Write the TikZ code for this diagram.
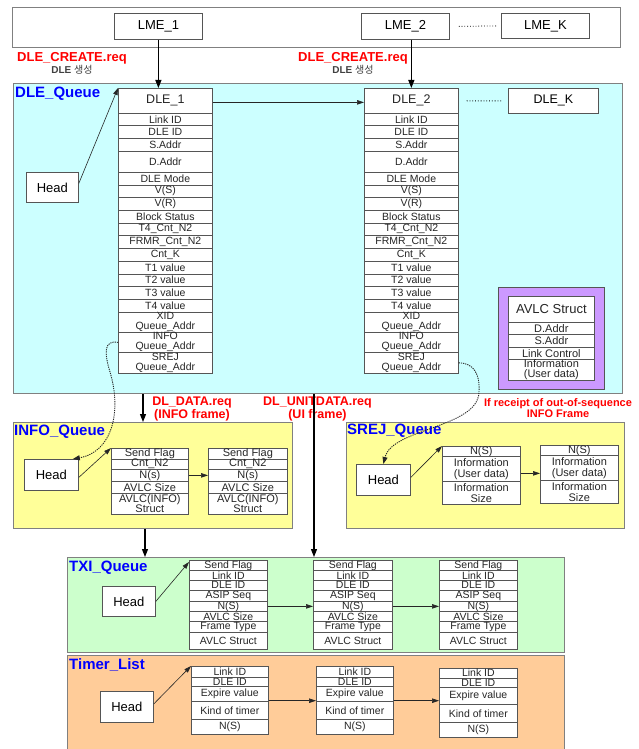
\documentclass[tikz,border=0pt]{standalone}
\usepackage{fontspec}
\setmainfont{Liberation Sans}
\newfontfamily\krfont{Noto Sans CJK KR}
\usetikzlibrary{arrows.meta,calc}
\definecolor{cyanbg}{HTML}{CCFFFF}
\definecolor{yellowbg}{HTML}{FFFF99}
\definecolor{greenbg}{HTML}{CCFFCC}
\definecolor{orangebg}{HTML}{FFCC99}
\definecolor{purplebg}{HTML}{CC99FF}
\definecolor{edgegray}{HTML}{555555}
\definecolor{boxgray}{HTML}{808080}
\newcommand{\hdrfont}{\fontsize{12.5}{12}\selectfont}
\tikzset{
  cell/.style={draw=edgegray, fill=white, line width=0.7pt, inner sep=0pt, align=center,
    anchor=north west, text=black!85, font=\fontsize{10.5}{10}\selectfont},
  grp/.style={draw=boxgray, line width=1.1pt},
  plain/.style={draw=edgegray, fill=white, line width=0.8pt, font=\fontsize{13}{13}\selectfont},
  qlabel/.style={anchor=base west, inner sep=0pt, text=blue, font=\bfseries\fontsize{15}{15}\selectfont},
  rlabel/.style={anchor=base, inner sep=0pt, text=red, font=\bfseries\fontsize{12.5}{12.5}\selectfont},
  bigarr/.style={-{Triangle[length=8pt,width=6pt]}, line width=1.3pt, black},
  thinarr/.style={-{Triangle[length=7pt,width=4.5pt]}, line width=0.6pt, black!85},
  dotarr/.style={dash pattern=on 1.2pt off 1pt, line width=0.9pt, black!85, -{Triangle[length=7pt,width=5pt]}}
}
\newcommand{\mkbox}[7]{%
  \pgfmathsetmacro{\boxw}{#4-#2}\pgfmathsetmacro{\boxh}{#5-#3}%
  \node[#6, minimum width=\boxw pt, minimum height=\boxh pt, anchor=north west, inner sep=0pt] (#1) at (#2,#3) {#7};%
}
\newcommand{\mktable}[5][]{%
  \pgfmathsetmacro{\cellw}{#4-#3}%
  \foreach \ya/\yb/\txt [count=\ci] in {#5} {%
    \pgfmathsetmacro{\cellh}{\yb-\ya}%
    \node[cell, #1, minimum width=\cellw pt, minimum height=\cellh pt] (#2-\ci) at (#3,\ya) {\txt};%
  }%
}
\begin{document}
\begin{tikzpicture}[x=1pt,y=-1pt]
\useasboundingbox (0,0) rectangle (639,749);
\clip (0,0) rectangle (639,749);
\fill[white] (0,0) rectangle (639,749);

% group frames
\mkbox{topf}{12}{7}{620}{47}{grp, fill=white}{}
\mkbox{dleq}{13}{83}{622}{393}{grp, fill=cyanbg}{}
\mkbox{infoq}{13}{422}{292}{528}{grp, fill=yellowbg}{}
\mkbox{srejq}{346}{422}{624}{528}{grp, fill=yellowbg}{}
\mkbox{txiq}{67}{557}{564}{652}{grp, fill=greenbg}{}
\mkbox{timq}{67}{655}{564}{755}{grp, fill=orangebg}{}

% queue labels
\node[qlabel] (lq1) at (15,97.5) {DLE\_Queue};
\node[qlabel] (lq2) at (14,435) {INFO\_Queue};
\node[qlabel] (lq3) at (347,434) {SREJ\_Queue};
\node[qlabel] (lq4) at (69,571) {TXI\_Queue};
\node[qlabel] (lq5) at (69,669) {Timer\_List};

% LME boxes
\mkbox{lme1}{114}{13}{202}{39}{plain}{LME\_1}
\mkbox{lme2}{361}{13}{449}{39}{plain}{LME\_2}
\mkbox{lmek}{501}{13}{589}{38}{plain}{LME\_K}
\draw[dotted, line width=0.8pt] ([xshift=9pt]lme2.east) -- ([xshift=-5pt]lmek.west);

% DLE_CREATE labels
\node[rlabel, anchor=base west, font=\bfseries\fontsize{13}{13}\selectfont] (cr1) at (17,62) {DLE\_CREATE.req};
\node[anchor=base, inner sep=0pt, text=black!75, font=\fontsize{10}{10}\selectfont] (cr1b) at (72,74) {\textbf{DLE} {\krfont 생성}};
\node[rlabel, anchor=base west, font=\bfseries\fontsize{13}{13}\selectfont] (cr2) at (298,62) {DLE\_CREATE.req};
\node[anchor=base, inner sep=0pt, text=black!75, font=\fontsize{10}{10}\selectfont] (cr2b) at (353,74) {\textbf{DLE} {\krfont 생성}};

% DLE tables
\mktable{d1}{118}{212}{88/113/{\hdrfont DLE\_1},113/125.5/{Link ID},125.5/138/{DLE ID},138/151/{S.Addr},151/172/{D.Addr},172/184.5/{DLE Mode},184.5/197/{V(S)},197/210/{V(R)},210/222.5/{Block Status},222.5/235/{T4\_Cnt\_N2},235/248/{FRMR\_Cnt\_N2},248/261/{Cnt\_K},261/273.5/{T1 value},273.5/286/{T2 value},286/299/{T3 value},299/312/{T4 value},312/332/{XID\\Queue\_Addr},332/352/{INFO\\Queue\_Addr},352/373/{SREJ\\Queue\_Addr}}
\mktable{d2}{364}{458}{88/113/{\hdrfont DLE\_2},113/125.5/{Link ID},125.5/138/{DLE ID},138/151/{S.Addr},151/172/{D.Addr},172/184.5/{DLE Mode},184.5/197/{V(S)},197/210/{V(R)},210/222.5/{Block Status},222.5/235/{T4\_Cnt\_N2},235/248/{FRMR\_Cnt\_N2},248/261/{Cnt\_K},261/273.5/{T1 value},273.5/286/{T2 value},286/299/{T3 value},299/312/{T4 value},312/332/{XID\\Queue\_Addr},332/352/{INFO\\Queue\_Addr},352/373/{SREJ\\Queue\_Addr}}
\mkbox{dlek}{508}{88}{598}{113}{plain, font=\hdrfont}{DLE\_K}
\draw[dotted, line width=0.8pt] ([xshift=8pt]d2-1.east) -- ([xshift=-6pt]dlek.west);

\mkbox{dhead}{26}{172}{78}{202}{plain}{Head}

% AVLC struct
\mkbox{avo}{498}{287}{604}{389}{grp, draw=edgegray, fill=purplebg}{}
\mktable[font=\fontsize{11}{10.5}\selectfont]{av}{508}{594}{296/322/{\fontsize{13}{13}\selectfont AVLC Struct},322/334/{D.Addr},334/347/{S.Addr},347/359/{Link Control},359/379/{Information\\(User data)}}

% INFO queue
\mkbox{ihead}{24}{459}{78}{490}{plain}{Head}
\mktable[font=\fontsize{11}{10}\selectfont]{i1}{111}{188}{448/458.5/{Send Flag},458.5/469/{Cnt\_N2},469/481/{N(s)},481/492.5/{AVLC Size},492.5/514/{AVLC(INFO)\\Struct}}
\mktable[font=\fontsize{11}{10}\selectfont]{i2}{208}{287}{448/458.5/{Send Flag},458.5/469/{Cnt\_N2},469/481/{N(s)},481/492.5/{AVLC Size},492.5/514/{AVLC(INFO)\\Struct}}

% SREJ queue
\mkbox{shead}{356}{464}{410}{495}{plain}{Head}
\mktable[font=\fontsize{11}{11}\selectfont]{s1}{442}{520}{446/456/{N(S)},456/481/{Information\\(User data)},481/504/{Information\\Size}}
\mktable[font=\fontsize{11}{11}\selectfont]{s2}{540}{618}{445/455/{N(S)},455/480/{Information\\(User data)},480/503/{Information\\Size}}

% TXI queue
\mkbox{thead}{102}{586}{155}{616}{plain}{Head}
\mktable{t1}{189}{267}{560/570/{Send Flag},570/580/{Link ID},580/590/{DLE ID},590/601/{ASIP Seq},601/611/{N(S)},611/621/{AVLC Size},621/632/{Frame Type},632/649/{AVLC Struct}}
\mktable{t2}{313}{392}{560/570/{Send Flag},570/580/{Link ID},580/590/{DLE ID},590/601/{ASIP Seq},601/611/{N(S)},611/621/{AVLC Size},621/632/{Frame Type},632/649/{AVLC Struct}}
\mktable{t3}{439}{517}{560/570/{Send Flag},570/580/{Link ID},580/590/{DLE ID},590/601/{ASIP Seq},601/611/{N(S)},611/621/{AVLC Size},621/632/{Frame Type},632/649/{AVLC Struct}}

% Timer list
\mkbox{mhead}{100}{691}{153}{722}{plain}{Head}
\mktable[font=\fontsize{10.5}{10}\selectfont]{tm1}{191}{268}{666/676.5/{Link ID},676.5/686/{DLE ID},686/701/{Expire value},701/719/{Kind of timer},719/734/{N(S)}}
\mktable[font=\fontsize{10.5}{10}\selectfont]{tm2}{316}{393}{666/676.5/{Link ID},676.5/686/{DLE ID},686/701/{Expire value},701/719/{Kind of timer},719/734/{N(S)}}
\mktable[font=\fontsize{10.5}{10}\selectfont]{tm3}{439}{517}{668/677.5/{Link ID},677.5/687/{DLE ID},687/704/{Expire value},704/722/{Kind of timer},722/737/{N(S)}}

% request labels
\node[rlabel] (dd1) at (192,405) {DL\_DATA.req};
\node[rlabel] (dd2) at (192,418) {(INFO frame)};
\node[rlabel] (ud1) at (317.5,405) {DL\_UNITDATA.req};
\node[rlabel] (ud2) at (317.5,418) {(UI frame)};
\node[rlabel, font=\bfseries\fontsize{11}{11}\selectfont] (oo1) at (558,406.5) {If receipt of out-of-sequence};
\node[rlabel, font=\bfseries\fontsize{11}{11}\selectfont] (oo2) at (558,417.5) {INFO Frame};

% vertical connectors
\coordinate (ax1) at (143,0);
\coordinate (ax2) at (145,0);
\coordinate (ax3) at (314,0);
\draw[bigarr] (lme1.south) -- (lme1.south |- d1-1.north);
\draw[bigarr] (d2-1.north |- lme2.south) -- (d2-1.north);
\draw[bigarr] (ax1 |- dleq.south) -- (ax1 |- infoq.north);
\draw[bigarr] (ax2 |- infoq.south) -- (ax2 |- txiq.north);
\draw[bigarr, line width=1.1pt] (ax3 |- dleq.south) -- (ax3 |- txiq.north);

% horizontal / head connectors
\draw[thinarr] ([yshift=-1.5pt]d1-1.east) -- ([yshift=-1.5pt]d2-1.west);
\draw[thinarr] ([yshift=4pt]dhead.east) -- (d1-1.north west);
\draw[thinarr] ([yshift=-2.5pt]ihead.east) -- (i1-1.north west);
\draw[thinarr] (i1-3.east) -- (i2-3.west);
\draw[thinarr] ([yshift=2.5pt]shead.east) -- (s1-1.north west);
\draw[thinarr] ([yshift=-4.5pt]s1-2.east) -- ([yshift=-4.5pt]s1-2.east -| s2-2.west);
\draw[thinarr] (thead.east) -- ([yshift=-2pt]t1-1.north west);
\draw[thinarr] (t1-5.east) -- (t2-5.west);
\draw[thinarr] (t2-5.east) -- (t3-5.west);
\draw[thinarr] ([yshift=3pt]mhead.east) -- (tm1-1.north west);
\draw[thinarr] ([yshift=1pt]tm1-3.south east) -- ([yshift=1pt]tm2-3.south west);
\draw[thinarr] ([yshift=1pt]tm2-3.south east) -- ([yshift=1pt]tm2-3.south east -| tm3-3.west);

% dotted curved connectors
\draw[dotarr] (d1-18.west) .. controls (104,340) and (104,352) .. (110,372) .. controls (122,412) and (112,452) .. ([xshift=-6pt]ihead.north east);
\draw[dotarr] (d2-19.east) .. controls (474,363) and (480,374) .. (479,392) .. controls (478,428) and (392,428) .. (shead.north);
\end{tikzpicture}
\end{document}
